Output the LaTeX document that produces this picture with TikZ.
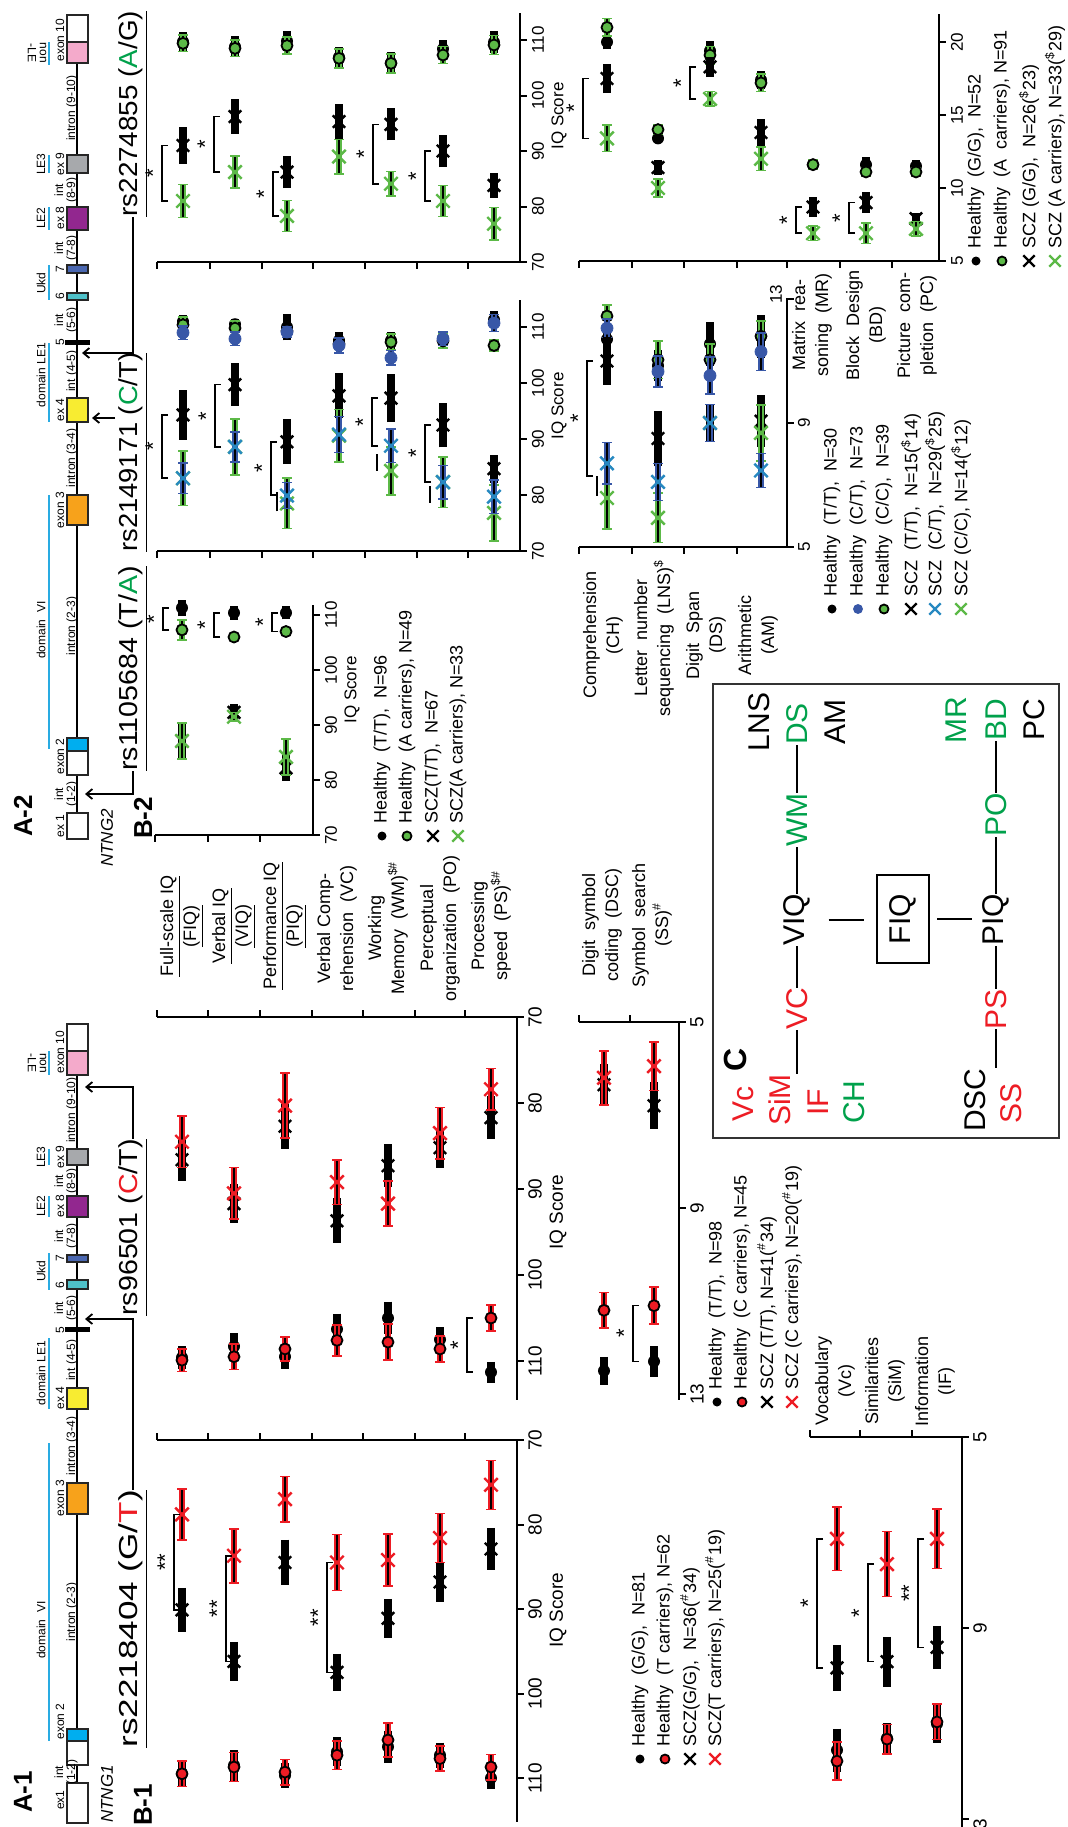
\documentclass[tikz,border=0pt]{standalone}
\usepackage{graphicx}
\usepackage{fontspec}
\setmainfont{Liberation Sans}
\usetikzlibrary{shapes.misc,arrows.meta}

\definecolor{myred}{HTML}{ED1C24}
\definecolor{mygreen}{HTML}{5CB947}
\definecolor{cgreen}{HTML}{00A14B}
\definecolor{myblue}{HTML}{3857A7}
\definecolor{domcol}{HTML}{29ABE2}
\definecolor{exblue}{HTML}{00AEEF}
\definecolor{exorange}{HTML}{F7A21B}
\definecolor{exyellow}{HTML}{F8EC31}
\definecolor{exteal}{HTML}{4FC1C9}
\definecolor{exnavy}{HTML}{4A67B0}
\definecolor{expurple}{HTML}{92278F}
\definecolor{exgray}{HTML}{A7A9AC}
\definecolor{expink}{HTML}{F4AACB}

\tikzset{
  every node/.style={rotate=90, inner sep=0pt},
  txt/.style={font=\fontsize{9}{11.5}\selectfont, align=center},
  ticklab/.style={font=\fontsize{9.5}{10}\selectfont},
  sticklab/.style={font=\fontsize{8.5}{9}\selectfont},
  gl/.style={font=\fontsize{6}{6}\selectfont, align=center},
  big/.style={font=\fontsize{15}{16}\selectfont},
  panel/.style={font=\fontsize{13}{14}\selectfont\bfseries},
  snp/.style={font=\fontsize{13}{14}\selectfont},
  axl/.style={line width=1pt},
  exbox/.style={draw=black!85, line width=1pt, fill=white},
  domline/.style={domcol, line width=1pt},
  conn/.style={line width=0.9pt, -{Straight Barb[length=3pt,width=5pt]}},
  cline/.style={line width=1.3pt},
  hbk/.style={circle, fill=black, minimum size=6pt},
  hrd/.style={circle, fill=myred, draw=black, line width=0.9pt, minimum size=5.5pt},
  hgn/.style={circle, fill=mygreen, draw=black, line width=0.9pt, minimum size=5.5pt},
  hbl/.style={circle, fill=myblue, draw=myblue, minimum size=6pt},
  sbk/.style={cross out, draw=black, line width=1.2pt, minimum size=5pt},
  srd/.style={cross out, draw=myred, line width=1.2pt, minimum size=5.5pt},
  sgn/.style={cross out, draw=mygreen, line width=1.2pt, minimum size=5.5pt},
  sbl/.style={cross out, draw=myblue!70!cyan, line width=1.2pt, minimum size=5.5pt}
}

% error bars, data points, brackets
\newcommand{\ebk}[3]{\draw[line width=4pt] (#1,#2-#3) -- (#1,#2+#3);}
\newcommand{\ecl}[4]{\draw[line width=3.4pt,#4] (#1,#2-#3) -- (#1,#2+#3);
  \draw[line width=0.8pt] (#1,#2-#3) -- (#1,#2+#3);
  \draw[line width=0.8pt,#4] (#1-5,#2-#3) -- (#1+5,#2-#3) (#1-5,#2+#3) -- (#1+5,#2+#3);}
\newcommand{\dk}[4]{\ebk{#1}{#2}{#3}\node[#4] at (#1,#2) {};}
\newcommand{\dc}[5]{\ecl{#1}{#2}{#3}{#5}\node[#4] at (#1,#2) {};}
\newcommand{\brk}[4]{\draw[line width=0.8pt] (#1+6,#2) -- (#1,#2) -- (#1,#3) -- (#1+6,#3);
  \node[font=\fontsize{11}{11}\selectfont] at (#1-9,{(#2+#3)/2}) {#4};}
\newcommand{\lgd}[4]{\node[#3, minimum size=4.5pt] at (#1,#2) {};
  \node[txt, anchor=west] at (#1,#2-12) {#4};}

\begin{document}
\begin{tikzpicture}[x=0.5pt,y=-0.5pt]
\fill[white] (0,0) rectangle (1067,1827);
\useasboundingbox (0,0) rectangle (1067,1827);

% ---------- A-2 : NTNG2
\node[panel] (a2) at (23,816) {A-2};
\node[font=\fontsize{8.5}{9}\selectfont\itshape] (ntng2) at (107,838) {NTNG2};
\draw[line width=1pt] (77,15) -- (77,839);
\draw[exbox] (67,15) rectangle (88,42);
\draw[exbox, fill=expink] (67,42) rectangle (88,63);
\draw[exbox, fill=exgray] (67,155) rectangle (88,173);
\draw[exbox, fill=expurple] (67,207) rectangle (88,230);
\draw[exbox, fill=exnavy] (67,265) rectangle (88,273);
\draw[exbox, fill=exteal] (67,293) rectangle (88,300);
\fill (65,340) rectangle (90,345);
\draw[exbox, fill=exyellow] (67,398) rectangle (88,422);
\draw[exbox, fill=exorange] (67,495) rectangle (88,525);
\draw[exbox, fill=exblue] (67,738) rectangle (88,751);
\draw[exbox] (67,751) rectangle (88,775);
\draw[exbox] (67,813) rectangle (88,839);
\draw[domline] (49,42) -- (49,65) (49,155) -- (49,173) (49,207) -- (49,230)
  (49,265) -- (49,300) (49,343) -- (49,422) (49,495) -- (49,749);
\node[gl, rotate=180] (n2a) at (37,53) {non\\-LE};
\node[gl] (n2b) at (41,164) {LE3};
\node[gl] (n2c) at (41,218) {LE2};
\node[gl] (n2d) at (41,283) {Ukd};
\node[gl] (n2e) at (41,375) {domain LE1};
\node[gl] (n2f) at (41,630) {domain\ \ VI};
\node[gl] (e2a) at (60,40) {exon 10};
\node[gl] (e2b) at (60,164) {ex 9};
\node[gl] (e2c) at (60,218) {ex 8};
\node[gl] (e2d) at (60,269) {7};
\node[gl] (e2e) at (60,296) {6};
\node[gl] (e2f) at (60,342) {5};
\node[gl] (e2g) at (60,410) {ex 4};
\node[gl] (e2h) at (60,510) {exon 3};
\node[gl, anchor=east] (e2i) at (60,738) {exon 2};
\node[gl] (e2j) at (60,826) {ex 1};
\node[gl] (i2a) at (72,108) {intron (9-10)};
\node[gl] (i2b) at (66,190) {int\\(8-9)};
\node[gl] (i2c) at (66,248) {int\\(7-8)};
\node[gl] (i2d) at (66,320) {int\\(5-6)};
\node[gl] (i2e) at (72,371) {int (4-5)};
\node[gl] (i2f) at (72,458) {intron (3-4)};
\node[gl] (i2g) at (72,626) {intron (2-3)};
\node[gl] (i2h) at (66,794) {int\\(1-2)};

\node[snp, anchor=west] (snpc) at (133,771) {\scalebox{1.1}[1]{\underline{rs1105684 (T/\textcolor{cgreen}{A})}}};
\node[snp, anchor=west] (snpd) at (133,552) {\scalebox{1.05}[1]{\underline{rs2149171 (\textcolor{cgreen}{C}/T)}}};
\node[snp, anchor=west] (snpe) at (133,217) {\scalebox{1.07}[1]{\underline{rs2274855 (\textcolor{cgreen}{A}/G)}}};
\coordinate (gc) at (85,794);
\coordinate (dd) at (115,418);
\coordinate (gd) at (92,418);
\coordinate (ge) at (82,353);
\draw[conn] (snpc.west) |- (gc);
\draw[conn] (dd) -- (gd);
\draw[conn] (snpe.west) |- (ge);

% ---------- A-1 : NTNG1
\node[panel] (a1) at (23,1792) {A-1};
\node[panel] (b1) at (143,1805) {B-1};
\node[font=\fontsize{8.5}{9}\selectfont\itshape] (ntng1) at (107,1794) {NTNG1};
\draw[line width=1pt] (77,1024) -- (77,1823);
\draw[exbox] (67,1024) rectangle (88,1051);
\draw[exbox, fill=expink] (67,1051) rectangle (88,1075);
\draw[exbox, fill=exgray] (67,1149) rectangle (88,1165);
\draw[exbox, fill=expurple] (67,1196) rectangle (88,1217);
\draw[exbox, fill=exnavy] (67,1255) rectangle (88,1262);
\draw[exbox, fill=exteal] (67,1280) rectangle (88,1289);
\fill (65,1327) rectangle (90,1332);
\draw[exbox, fill=exyellow] (67,1388) rectangle (88,1409);
\draw[exbox, fill=exorange] (67,1483) rectangle (88,1514);
\draw[exbox, fill=exblue] (67,1729) rectangle (88,1741);
\draw[exbox] (67,1741) rectangle (88,1765);
\draw[exbox] (67,1783) rectangle (88,1823);
\draw[domline] (49,1051) -- (49,1075) (49,1149) -- (49,1165) (49,1196) -- (49,1217)
  (49,1253) -- (49,1290) (49,1338) -- (49,1409) (49,1443) -- (49,1741);
\node[gl, rotate=180] (n1a) at (37,1063) {non\\-LE};
\node[gl] (n1b) at (41,1157) {LE3};
\node[gl] (n1c) at (41,1206) {LE2};
\node[gl] (n1d) at (41,1271) {Ukd};
\node[gl] (n1e) at (41,1373) {domain LE1};
\node[gl] (n1f) at (41,1630) {domain\ \ VI};
\node[gl] (e1a) at (60,1052) {exon 10};
\node[gl] (e1b) at (60,1157) {ex 9};
\node[gl] (e1c) at (60,1206) {ex 8};
\node[gl] (e1d) at (60,1258) {7};
\node[gl] (e1e) at (60,1285) {6};
\node[gl] (e1f) at (60,1330) {5};
\node[gl] (e1g) at (60,1398) {ex 4};
\node[gl] (e1h) at (60,1498) {exon 3};
\node[gl, anchor=east] (e1i) at (60,1703) {exon 2};
\node[gl] (e1j) at (60,1800) {ex1};
\node[gl] (i1a) at (72,1110) {intron (9-10)};
\node[gl] (i1b) at (66,1181) {int\\(8-9)};
\node[gl] (i1c) at (66,1236) {int\\(7-8)};
\node[gl] (i1d) at (66,1308) {int\\(5-6)};
\node[gl] (i1e) at (72,1360) {int (4-5)};
\node[gl] (i1f) at (72,1446) {intron (3-4)};
\node[gl] (i1g) at (72,1612) {intron (2-3)};
\node[gl] (i1h) at (66,1772) {int\\(1-2)};

\node[snp, anchor=west] (snpa) at (133,1748) {\scalebox{1.35}[1]{\underline{rs2218404 (G/\textcolor{myred}{T})}}};
\node[snp, anchor=west] (snpb) at (133,1316) {\scalebox{1.1}[1]{\underline{rs96501 (\textcolor{myred}{C}/T)}}};
\coordinate (ga) at (85,1319);
\coordinate (gb) at (85,1087);
\draw[conn] (snpa.east) |- (ga);
\draw[conn] (snpb.east) |- (gb);

% ---------- B-1 category labels
\node[txt] (lfiq) at (182,926) {\underline{Full-scale IQ}\\\underline{(FIQ)}};
\node[txt] (lviq) at (234,926) {\underline{Verbal IQ}\\\underline{(VIQ)}};
\node[txt] (lpiq) at (285,926) {\underline{Performance IQ}\\\underline{(PIQ)}};
\node[txt] (lvc) at (337,928) {Verbal Comp-\\rehension\ \ (VC)};
\node[txt] (lwm) at (388,928) {Working\\Memory\ \ (WM)\textsuperscript{\$\#}};
\node[txt] (lpo) at (440,928) {Perceptual\\organization\ \ (PO)};
\node[txt] (lps) at (491,926) {Processing\\speed\ \ (PS)\textsuperscript{\$\#}};

% ---------- B-1 left panel (rs2218404)
\draw[axl] (157,1440) -- (517,1440) -- (517,1822);
\foreach \x in {157,208,260,312,363,415,465} \draw[axl] (\x,1440) -- (\x,1433);
\foreach \y/\l in {1440/70,1524.5/80,1609/90,1693.5/100,1778/110}
  {\draw[axl] (517,\y) -- (524,\y); \node[ticklab] at (535,\y) {\l};}
\node[ticklab] (iq1) at (558,1610) {IQ Score};
\begin{scope}[shift={(0,848.5)}, yscale=8.45]
\dk{182}{109.5}{1.6}{hbk} \dc{182}{109.5}{1.5}{hrd}{myred} \dk{182}{90.1}{2.6}{sbk} \dc{182}{78.8}{3}{srd}{myred}
\dk{234}{108.5}{1.8}{hbk} \dc{234}{108.7}{1.7}{hrd}{myred} \dk{234}{96.2}{2.3}{sbk} \dc{234}{83.7}{3.2}{srd}{myred}
\dk{285}{109.7}{1.5}{hbk} \dc{285}{109.3}{1.5}{hrd}{myred} \dk{285}{84.5}{2.7}{sbk} \dc{285}{77}{2.7}{srd}{myred}
\dk{337}{106.9}{1.7}{hbk} \dc{337}{107.3}{1.7}{hrd}{myred} \dk{337}{97.5}{2.2}{sbk} \dc{337}{84.5}{3.3}{srd}{myred}
\dk{388}{106.3}{1.9}{hbk} \dc{388}{105.5}{2}{hrd}{myred} \dk{388}{91.1}{2.3}{sbk} \dc{388}{84.2}{3.1}{srd}{myred}
\dk{440}{107.3}{1.5}{hbk} \dc{440}{107.7}{1.5}{hrd}{myred} \dk{440}{86.8}{2.4}{sbk} \dc{440}{81.6}{2.9}{srd}{myred}
\dk{491}{110}{1.3}{hbk} \dc{491}{108.7}{1.5}{hrd}{myred} \dk{491}{82.9}{2.5}{sbk} \dc{491}{75.3}{2.9}{srd}{myred}
\brk{174}{78.8}{90.1}{**} \brk{226}{83.7}{96.2}{**} \brk{327}{84.5}{97.5}{**}
\end{scope}
\lgd{640}{1759}{hbk}{Healthy\ \ (G/G),\ \ N=81}
\lgd{665}{1759}{hrd}{Healthy\ \ (T carriers), N=62}
\lgd{690}{1759}{sbk}{SCZ(G/G),\ \ N=36(\textsuperscript{\#}34)}
\lgd{715}{1759}{srd}{SCZ(T carriers), N=25(\textsuperscript{\#}19)}

% ---------- B-1 right panel (rs96501)
\draw[axl] (157,1017) -- (517,1017) -- (517,1400);
\foreach \x in {157,208,260,312,363,415,465} \draw[axl] (\x,1017) -- (\x,1010);
\foreach \y/\l in {1017/70,1103/80,1189/90,1275/100,1361/110}
  {\draw[axl] (517,\y) -- (524,\y); \node[ticklab] at (535,\y) {\l};}
\node[ticklab] (iq2) at (558,1212) {IQ Score};
\begin{scope}[shift={(0,415)}, yscale=8.6]
\dk{182}{109.6}{1.3}{hbk} \dc{182}{109.9}{1.3}{hrd}{myred} \dk{182}{86.6}{2.5}{sbk} \dc{182}{84.5}{3}{srd}{myred}
\dk{234}{108.3}{1.5}{hbk} \dc{234}{109.5}{1.5}{hrd}{myred} \dk{234}{91.7}{2.3}{sbk} \dc{234}{90.5}{3}{srd}{myred}
\dk{285}{109.5}{1.4}{hbk} \dc{285}{108.6}{1.4}{hrd}{myred} \dk{285}{82.7}{2.6}{sbk} \dc{285}{80.3}{3.8}{srd}{myred}
\dk{337}{106.3}{1.8}{hbk} \dc{337}{107.6}{1.8}{hrd}{myred} \dk{337}{93.7}{2.6}{sbk} \dc{337}{89.2}{2.6}{srd}{myred}
\dk{388}{105}{1.9}{hbk} \dc{388}{107.8}{2.1}{hrd}{myred} \dk{388}{87.3}{2.5}{sbk} \dc{388}{91.7}{2.6}{srd}{myred}
\dk{440}{107.5}{1.4}{hbk} \dc{440}{108.6}{1.5}{hrd}{myred} \dk{440}{85.2}{2.3}{sbk} \dc{440}{83.5}{3}{srd}{myred}
\dk{491}{111.3}{1.2}{hbk} \dc{491}{105}{1.5}{hrd}{myred} \dk{491}{81.7}{2.5}{sbk} \dc{491}{78.4}{2.4}{srd}{myred}
\brk{467}{105}{111.3}{*}
\end{scope}
\lgd{717}{1402}{hbk}{Healthy\ \ (T/T),\ \ N=98}
\lgd{742}{1402}{hrd}{Healthy\ \ (C carriers), N=45}
\lgd{767}{1402}{sbk}{SCZ (T/T), N=41(\textsuperscript{\#}34)}
\lgd{792}{1402}{srd}{SCZ (C carriers), N=20(\textsuperscript{\#}19)}

% ---------- B-1 subtests DSC / SS
\node[txt] (ldsc) at (602,925) {Digit\ \ symbol\\coding\ \ (DSC)};
\node[txt] (lss) at (652,925) {Symbol\ \ search\\(SS)\textsuperscript{\#}};
\draw[axl] (579,1022) -- (679,1022) -- (679,1400);
\foreach \x in {579,630} \draw[axl] (\x,1022) -- (\x,1015);
\foreach \y/\l in {1022/5,1208/9,1394/13}
  {\draw[axl] (679,\y) -- (686,\y); \node[ticklab] at (697,\y) {\l};}
\begin{scope}[shift={(0,789.5)}, yscale=46.5]
\dk{604}{12.5}{0.3}{hbk} \dc{604}{11.2}{0.38}{hrd}{myred} \dk{604}{6.35}{0.45}{sbk} \dc{604}{6.2}{0.58}{srd}{myred}
\dk{654}{12.3}{0.33}{hbk} \dc{654}{11.1}{0.4}{hrd}{myred} \dk{654}{6.8}{0.5}{sbk} \dc{654}{5.95}{0.52}{srd}{myred}
\brk{633}{11.1}{12.3}{*}
\end{scope}

% ---------- B-1 subtests Vc / SiM / IF
\node[txt] (lvoc) at (835,1381) {Vocabulary\\(Vc)};
\node[txt] (lsim) at (885,1381) {Similarities\\(SiM)};
\node[txt] (linf) at (935,1381) {Information\\(IF)};
\draw[axl] (810,1437) -- (962,1437) -- (962,1827);
\foreach \x in {810,860,912} \draw[axl] (\x,1437) -- (\x,1430);
\foreach \y/\l in {1437/5,1628/9}
  {\draw[axl] (962,\y) -- (969,\y); \node[ticklab] at (980,\y) {\l};}
\draw[axl] (962,1819) -- (969,1819);
\node[ticklab] (t13) at (980,1829) {13};
\begin{scope}[shift={(0,1198)}, yscale=47.8]
\dk{837}{11.55}{0.45}{hbk} \dc{837}{11.78}{0.4}{hrd}{myred} \dk{837}{9.83}{0.48}{sbk} \dc{837}{7.13}{0.66}{srd}{myred}
\dk{887}{11.3}{0.32}{hbk} \dc{887}{11.32}{0.31}{hrd}{myred} \dk{887}{9.7}{0.52}{sbk} \dc{887}{7.66}{0.68}{srd}{myred}
\dk{937}{11}{0.4}{hbk} \dc{937}{10.96}{0.37}{hrd}{myred} \dk{937}{9.4}{0.45}{sbk} \dc{937}{7.13}{0.62}{srd}{myred}
\brk{817}{7.13}{9.83}{*} \brk{868}{7.66}{9.7}{*} \brk{918}{7.13}{9.4}{**}
\end{scope}

% ---------- B-2 rs1105684
\node[panel] (b2) at (143,818) {B-2};
\draw[axl] (155,835) -- (313,835) -- (313,605);
\foreach \x in {155,208,260} \draw[axl] (\x,835) -- (\x,842);
\foreach \y/\l in {835/70,780/80,725/90,670/100,615/110}
  {\draw[axl] (313,\y) -- (320,\y); \node[sticklab] at (331,\y) {\l};}
\node[sticklab] (iq3) at (352,690) {IQ Score};
\begin{scope}[shift={(0,1220)}, yscale=-5.5]
\dk{182}{111.3}{1.5}{hbk} \dc{182}{107.3}{1.8}{hgn}{mygreen} \dk{182}{87.1}{3.3}{sbk} \dc{182}{87.1}{3.3}{sgn}{mygreen}
\dk{234}{110.4}{1.3}{hbk} \dc{234}{106}{0.6}{hgn}{mygreen} \dk{234}{92.3}{1.5}{sbk} \dc{234}{91.5}{0.8}{sgn}{mygreen}
\dk{286}{110.4}{1.2}{hbk} \dc{286}{107}{0.6}{hgn}{mygreen} \dk{286}{82.2}{2.3}{sbk} \dc{286}{84.2}{3.3}{sgn}{mygreen}
\brk{163}{107.3}{111.3}{*} \brk{214}{106}{110.4}{*} \brk{272}{107}{110.4}{*}
\end{scope}
\lgd{382}{836}{hbk}{Healthy\ \ (T/T),\ \ N=96}
\lgd{407}{836}{hgn}{Healthy\ \ (A carriers), N=49}
\lgd{433}{836}{sbk}{SCZ(T/T),\ \ N=67}
\lgd{458}{836}{sgn}{SCZ(A carriers), N=33}

% ---------- B-2 rs2149171
\draw[axl] (157,551) -- (520,551) -- (520,300);
\foreach \x in {157,210,262,313,365,417,468} \draw[axl] (\x,551) -- (\x,558);
\foreach \y/\l in {551/70,495/80,439/90,383/100,327/110}
  {\draw[axl] (520,\y) -- (527,\y); \node[sticklab] at (538,\y) {\l};}
\node[sticklab] (iq4) at (559,406) {IQ Score};
\begin{scope}[shift={(0,943)}, yscale=-5.6]
\dk{183}{111}{1.2}{hbk} \dc{183}{110.4}{1.4}{hgn}{mygreen} \dc{183}{109}{1.2}{hbl}{myblue}
\dk{183}{94.3}{4.4}{sbk} \dc{183}{83}{4.9}{sgn}{mygreen} \dc{183}{83}{2.7}{sbl}{myblue}
\dk{235}{110.5}{1}{hbk} \dc{235}{109.8}{1.3}{hgn}{mygreen} \dc{235}{107.9}{1.2}{hbl}{myblue}
\dk{235}{99.7}{3.8}{sbk} \dc{235}{88.6}{5}{sgn}{mygreen} \dc{235}{88.6}{2.7}{sbl}{myblue}
\dk{287}{110}{2.4}{hbk} \dc{287}{109.3}{0.8}{hgn}{mygreen} \dc{287}{109.1}{1}{hbl}{myblue}
\dk{287}{89.5}{4}{sbk} \dc{287}{78.5}{4.5}{sgn}{mygreen} \dc{287}{79.9}{2.3}{sbl}{myblue}
\dk{339}{107.6}{1.5}{hbk} \dc{339}{107}{1}{hgn}{mygreen} \dc{339}{106.7}{1.3}{hbl}{myblue}
\dk{339}{97.7}{4}{sbk} \dc{339}{90.6}{4.7}{sgn}{mygreen} \dc{339}{90.8}{3.2}{sbl}{myblue}
\dk{391}{107.6}{1.5}{hbk} \dc{391}{107.3}{1.4}{hgn}{mygreen} \dc{391}{104.5}{1.3}{hbl}{myblue}
\dk{391}{97.3}{4.3}{sbk} \dc{391}{84.3}{4.3}{sgn}{mygreen} \dc{391}{88.8}{3}{sbl}{myblue}
\dk{443}{108}{1.3}{hbk} \dc{443}{107.5}{1.3}{hgn}{mygreen} \dc{443}{107.9}{1.2}{hbl}{myblue}
\dk{443}{92.5}{4}{sbk} \dc{443}{82.3}{4.5}{sgn}{mygreen} \dc{443}{82.3}{3}{sbl}{myblue}
\dk{494}{111.3}{1.5}{hbk} \dc{494}{106.7}{1}{hgn}{mygreen} \dc{494}{110.7}{1.5}{hbl}{myblue}
\dk{494}{84.7}{2.5}{sbk} \dc{494}{76.8}{5}{sgn}{mygreen} \dc{494}{79.7}{3}{sbl}{myblue}
\brk{162}{83}{94.3}{*} \brk{215}{88.6}{99.7}{*} \brk{271}{80}{89.5}{*}
\brk{372}{88.8}{97.3}{*} \brk{425}{82.3}{92.5}{*}
\draw[line width=0.8pt] (277,77.1) -- (277,80.6) (377,84.3) -- (377,87.4) (430,78.6) -- (430,81.6);
\end{scope}

% ---------- B-2 rs2274855
\draw[axl] (157,262) -- (520,262) -- (520,13);
\foreach \x in {157,210,262,313,365,417,468} \draw[axl] (\x,262) -- (\x,269);
\foreach \y/\l in {262/70,206.5/80,151/90,95.5/100,40/110}
  {\draw[axl] (520,\y) -- (527,\y); \node[sticklab] at (538,\y) {\l};}
\node[sticklab] (iq5) at (559,116) {IQ Score};
\begin{scope}[shift={(0,650.5)}, yscale=-5.55]
\dk{183}{109.7}{1.7}{hbk} \dc{183}{109.4}{1.5}{hgn}{mygreen} \dk{183}{91}{3.3}{sbk} \dc{183}{81}{3}{sgn}{mygreen}
\dk{235}{108.8}{1.9}{hbk} \dc{235}{108.5}{1.5}{hgn}{mygreen} \dk{235}{96.2}{3.1}{sbk} \dc{235}{86.2}{2.9}{sgn}{mygreen}
\dk{287}{109.8}{1.8}{hbk} \dc{287}{109}{1.5}{hgn}{mygreen} \dk{287}{86.2}{2.9}{sbk} \dc{287}{78.3}{2.8}{sgn}{mygreen}
\dk{339}{106.9}{1.9}{hbk} \dc{339}{106.7}{1.7}{hgn}{mygreen} \dk{339}{95.3}{3.1}{sbk} \dc{339}{89}{3.1}{sgn}{mygreen}
\dk{391}{105.9}{1.9}{hbk} \dc{391}{105.8}{1.7}{hgn}{mygreen} \dk{391}{94.8}{2.9}{sbk} \dc{391}{84.1}{2.2}{sgn}{mygreen}
\dk{443}{108.4}{1.6}{hbk} \dc{443}{107.3}{1.5}{hgn}{mygreen} \dk{443}{90}{2.9}{sbk} \dc{443}{81}{2.8}{sgn}{mygreen}
\dk{494}{109.6}{2}{hbk} \dc{494}{109.1}{1.7}{hgn}{mygreen} \dk{494}{83.8}{2.2}{sbk} \dc{494}{76.9}{2.9}{sgn}{mygreen}
\brk{162}{81}{91}{*} \brk{214}{86.2}{96.2}{*} \brk{273}{78.3}{86.2}{*}
\brk{373}{84.1}{94.8}{*} \brk{425}{81}{90}{*}
\end{scope}

% ---------- B-2 subtests rs2149171
\node[txt] (lch) at (603,635) {Comprehension\\(CH)};
\node[txt] (llns) at (654,638) {Letter\ \ number\\sequencing\ \ (LNS)\textsuperscript{\$}};
\node[txt] (lds) at (706,635) {Digit\ \ Span\\(DS)};
\node[txt] (lam) at (758,635) {Arithmetic\\(AM)};
\draw[axl] (579,547) -- (787,547) -- (787,298);
\foreach \x in {579,632,684,737} \draw[axl] (\x,547) -- (\x,554);
\foreach \y/\l in {547/5,423/9}
  {\draw[axl] (787,\y) -- (794,\y); \node[sticklab] at (804,\y) {\l};}
\draw[axl] (787,299) -- (794,299);
\node[sticklab] (t13b) at (776,294) {13};
\begin{scope}[shift={(0,702)}, yscale=-31]
\dk{607}{11.7}{0.5}{hbk} \dc{607}{12.45}{0.35}{hgn}{mygreen} \dc{607}{12.06}{0.3}{hbl}{myblue}
\dk{607}{11}{0.77}{sbk} \dc{607}{6.58}{1}{sgn}{mygreen} \dc{607}{7.7}{0.67}{sbl}{myblue}
\dk{658}{10.85}{0.5}{hbk} \dc{658}{11.04}{0.6}{hgn}{mygreen} \dc{658}{10.66}{0.5}{hbl}{myblue}
\dk{658}{8.5}{0.9}{sbk} \dc{658}{5.94}{0.8}{sgn}{mygreen} \dc{658}{7.1}{0.6}{sbl}{myblue}
\dk{710}{11.55}{0.7}{hbk} \dc{710}{11.04}{0.5}{hgn}{mygreen} \dc{710}{10.53}{0.6}{hbl}{myblue}
\dk{710}{9}{0.6}{sbk} \dc{710}{9}{0.6}{sgn}{mygreen} \dc{710}{9}{0.6}{sbl}{myblue}
\dk{761}{11.8}{0.7}{hbk} \dc{761}{11.8}{0.5}{hgn}{mygreen} \dc{761}{11.3}{0.6}{hbl}{myblue}
\dk{761}{9.06}{0.84}{sbk} \dc{761}{8.68}{0.9}{sgn}{mygreen} \dc{761}{7.47}{0.55}{sbl}{myblue}
\brk{587}{7.3}{11}{*}
\draw[line width=0.8pt] (597,6.65) -- (597,7.3);
\end{scope}
\lgd{832}{609}{hbk}{Healthy\ \ (T/T),\ \ N=30}
\lgd{858}{609}{hbl}{Healthy\ \ (C/T),\ \ N=73}
\lgd{884}{609}{hgn}{Healthy\ \ (C/C),\ \ N=39}
\lgd{911}{609}{sbk}{SCZ\ \ (T/T),\ \ N=15(\textsuperscript{\$}14)}
\lgd{935}{609}{sbl}{SCZ\ \ (C/T),\ \ N=29(\textsuperscript{\$}25)}
\lgd{961}{609}{sgn}{SCZ (C/C), N=14(\textsuperscript{\$}12)}

% ---------- B-2 subtests rs2274855
\node[txt] (lmr) at (812,325) {Matrix\ \ rea-\\soning\ \ (MR)};
\node[txt] (lbd) at (866,325) {Block\ \ Design\\(BD)};
\node[txt] (lpc) at (917,325) {Picture\ \ com-\\pletion\ \ (PC)};
\draw[axl] (579,261) -- (939,261) -- (939,14);
\foreach \x in {579,632,684,737,787,840,892} \draw[axl] (\x,261) -- (\x,268);
\foreach \y/\l in {261/5,188/10,115/15,42/20}
  {\draw[axl] (939,\y) -- (946,\y); \node[sticklab] at (957,\y) {\l};}
\begin{scope}[shift={(0,334)}, yscale=-14.6]
\dk{607}{20}{0.5}{hbk} \dc{607}{21}{0.6}{hgn}{mygreen} \dk{607}{17.5}{1}{sbk} \dc{607}{13.4}{0.9}{sgn}{mygreen}
\dk{658}{13.4}{0.3}{hbk} \dc{658}{14}{0.3}{hgn}{mygreen} \dk{658}{11.4}{0.5}{sbk} \dc{658}{10}{0.6}{sgn}{mygreen}
\dk{710}{19.4}{0.7}{hbk} \dc{710}{19.1}{0.6}{hgn}{mygreen} \dk{710}{18.3}{0.7}{sbk} \dc{710}{16.1}{0.5}{sgn}{mygreen}
\dk{761}{17.4}{0.6}{hbk} \dc{761}{17.2}{0.6}{hgn}{mygreen} \dk{761}{13.8}{0.9}{sbk} \dc{761}{12}{0.8}{sgn}{mygreen}
\dk{813}{11.6}{0.3}{hbk} \dc{813}{11.6}{0.3}{hgn}{mygreen} \dk{813}{8.7}{0.7}{sbk} \dc{813}{6.9}{0.5}{sgn}{mygreen}
\dk{866}{11.6}{0.5}{hbk} \dc{866}{11.1}{0.3}{hgn}{mygreen} \dk{866}{9}{0.7}{sbk} \dc{866}{6.9}{0.7}{sgn}{mygreen}
\dk{916}{11.5}{0.4}{hbk} \dc{916}{11.1}{0.3}{hgn}{mygreen} \dk{916}{7.9}{0.4}{sbk} \dc{916}{7.2}{0.5}{sgn}{mygreen}
\brk{583}{13.4}{17.5}{*} \brk{690}{16.1}{18.3}{*} \brk{796}{6.9}{8.7}{*} \brk{849}{6.9}{9}{*}
\end{scope}
\lgd{976}{261}{hbk}{Healthy\ \ (G/G),\ \ N=52}
\lgd{1002}{261}{hgn}{Healthy\ \ (A\ \ carriers), N=91}
\lgd{1029}{261}{sbk}{SCZ (G/G),\ \ N=26(\textsuperscript{\$}23)}
\lgd{1055}{261}{sgn}{SCZ (A carriers), N=33(\textsuperscript{\$}29)}

% ---------- C
\draw[line width=1pt, black!80] (713,684) rectangle (1059,1138);
\node[font=\fontsize{16}{16}\selectfont\bfseries] (cl) at (735,1060) {C};
\node[big, myred] (vc1) at (743,1104) {Vc};
\node[big, myred] (sim) at (780,1100) {SiM};
\node[big, myred] (inf) at (818,1102) {IF};
\node[big, cgreen] (ch) at (854,1102) {CH};
\node[big, myred] (vcn) at (797,1009) {VC};
\node[big] (viq) at (797,920) {VIQ};
\node[big, cgreen] (wm) at (797,820) {WM};
\node[big, cgreen] (ds) at (797,724) {DS};
\node[big] (lns) at (759,722) {LNS};
\node[big] (am) at (835,722) {AM};
\node[big, draw, line width=1pt, minimum width=44pt, minimum height=26pt] (fiq) at (903,919) {FIQ};
\node[big] (piq) at (996,920) {PIQ};
\node[big, myred] (ps) at (996,1009) {PS};
\node[big, cgreen] (po) at (996,815) {PO};
\node[big, cgreen] (bd) at (996,720) {BD};
\node[big, cgreen] (mr) at (956,720) {MR};
\node[big] (pc) at (1034,720) {PC};
\node[big] (dsc) at (975,1100) {DSC};
\node[big, myred] (ss) at (1011,1103) {SS};
\draw[cline] (vcn.west) -- (vcn.west |- sim.east);
\draw[cline] (vcn.east) -- (viq.west);
\draw[cline] (viq.east) -- (wm.west);
\draw[cline] (wm.east) -- (ds.west);
\draw[cline, shorten <=9pt, shorten >=6pt] (viq.south) -- (viq.south -| fiq.north);
\draw[cline, shorten <=3.5pt, shorten >=5pt] (fiq.south) -- (fiq.south -| piq.north);
\draw[cline] (ps.west) -- (ps.west |- dsc.east);
\draw[cline] (ps.east) -- (piq.west);
\draw[cline] (piq.east) -- (po.west);
\draw[cline] (po.east) -- (bd.west);
\end{tikzpicture}
\end{document}
